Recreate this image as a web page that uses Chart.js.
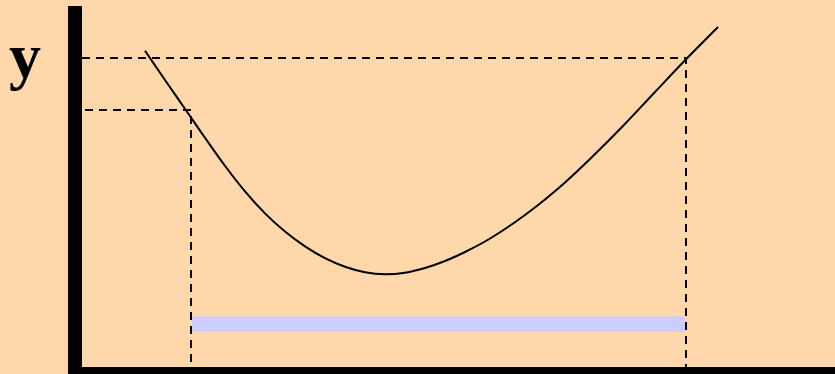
<!DOCTYPE html>
<html>
<head>
<meta charset="utf-8">
<script src="https://cdn.jsdelivr.net/npm/chart.js@4/dist/chart.umd.min.js"></script>
<style>
  html, body { margin: 0; padding: 0; background: #FED7AA; }
  #wrap { width: 835px; height: 374px; }
</style>
</head>
<body>
<div id="wrap"><canvas id="c"></canvas></div>
<script>
const curveX = [145, 165, 187, 205, 225, 245, 265, 285, 305, 325, 345, 365, 385, 405, 425, 445, 465, 485, 505, 525, 545, 565, 590, 622, 655, 687, 718];
const curveY = [50.7, 80, 111.7, 137.8, 165.8, 191.4, 213.4, 231.6, 246.4, 258.2, 266.8, 272.3, 274.3, 272.7, 268, 261, 252, 241.5, 229, 215, 199.5, 182.5, 159, 127, 92, 58.3, 27];

// marked points on the curve
const markLeft = { x: 191, y: 110 };
const markRight = { x: 686, y: 58 };
const axisX = 75;
const baseY = 374;

// interval bar
const barStart = 192;
const barEnd = 685;
const barY = 324;

const curvePts = curveX.map((x, i) => ({ x: x, y: curveY[i] }));

const dashStyle = { borderColor: '#000', borderWidth: 2, borderDash: [8, 6], pointRadius: 0, fill: false, tension: 0 };

const bgPlugin = {
  id: 'bg',
  beforeDraw(chart) {
    const ctx = chart.ctx;
    ctx.save();
    ctx.fillStyle = '#FED7AA';
    ctx.fillRect(0, 0, chart.width, chart.height);
    ctx.restore();
  },
  afterDraw(chart) {
    const ctx = chart.ctx;
    ctx.save();
    ctx.fillStyle = '#000';
    ctx.font = 'bold 64px "Liberation Serif", "DejaVu Serif", serif';
    ctx.textBaseline = 'alphabetic';
    ctx.fillText('y', 9, 77);
    ctx.restore();
  }
};

new Chart(document.getElementById('c'), {
  type: 'line',
  data: {
    datasets: [
      { data: [{ x: barStart, y: barY }, { x: barEnd, y: barY }], borderColor: '#CCCCFF', borderWidth: 15, pointRadius: 0, borderCapStyle: 'butt' },
      Object.assign({ data: [{ x: axisX + 7, y: markRight.y }, { x: markRight.x, y: markRight.y }, { x: markRight.x, y: baseY }] }, dashStyle),
      Object.assign({ data: [{ x: axisX + 10, y: markLeft.y }, { x: markLeft.x, y: markLeft.y }, { x: markLeft.x, y: baseY }] }, dashStyle),
      { data: curvePts, borderColor: '#000', borderWidth: 2, pointRadius: 0, tension: 0.4 },
      { data: [{ x: axisX, y: 6 }, { x: axisX, y: baseY }], borderColor: '#000', borderWidth: 14, pointRadius: 0, borderCapStyle: 'butt' },
      { data: [{ x: 68, y: baseY }, { x: 835, y: baseY }], borderColor: '#000', borderWidth: 14, pointRadius: 0, borderCapStyle: 'butt' }
    ]
  },
  options: {
    responsive: true,
    maintainAspectRatio: false,
    animation: false,
    layout: { padding: 0 },
    plugins: { legend: { display: false }, tooltip: { enabled: false } },
    scales: {
      x: { type: 'linear', display: false, min: 0, max: 835 },
      y: { type: 'linear', display: false, min: 0, max: 374, reverse: true }
    }
  },
  plugins: [bgPlugin]
});
</script>
</body>
</html>
